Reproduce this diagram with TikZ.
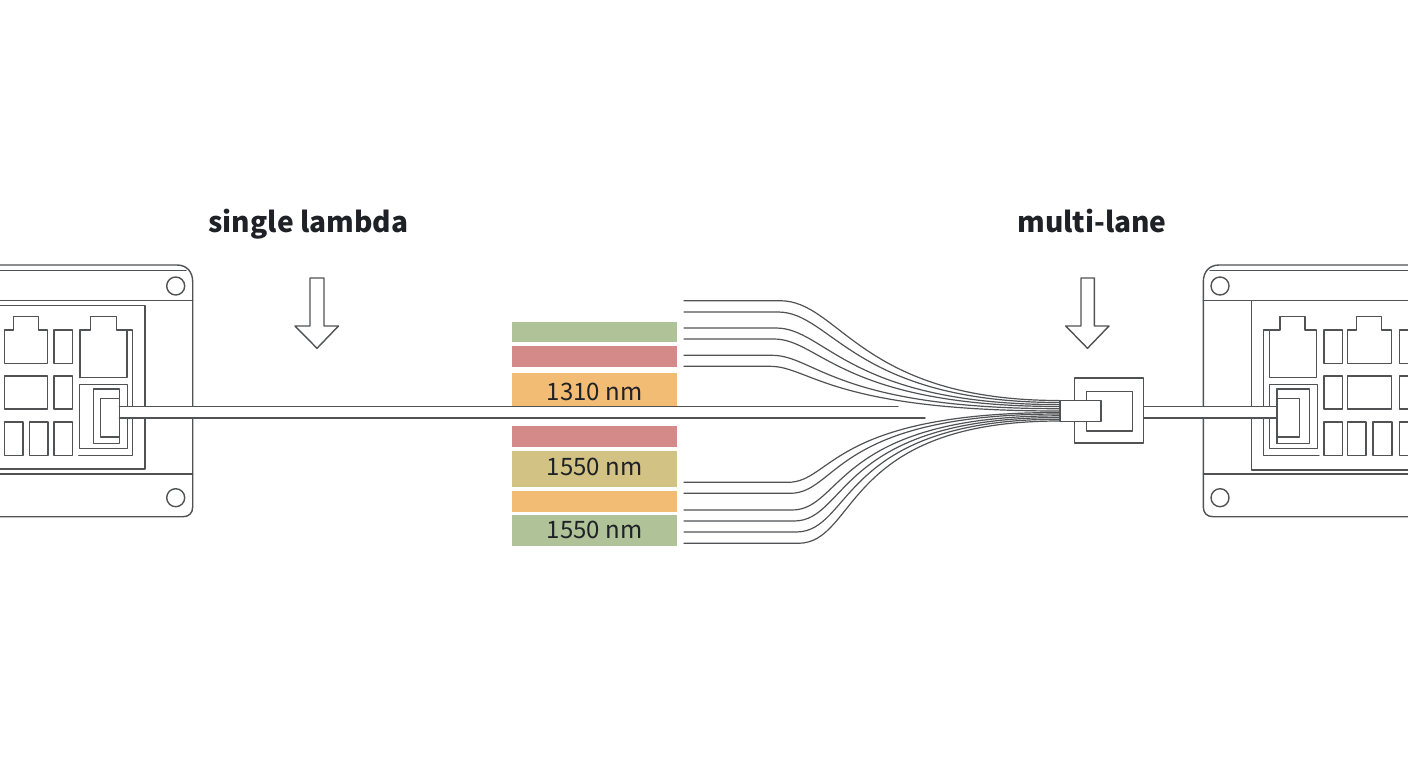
\documentclass[tikz,border=0pt]{standalone}
\usepackage{fontspec}
\setmainfont{Noto Sans CJK JP}
\definecolor{linegray}{HTML}{505254}
\definecolor{inkdark}{HTML}{1E2227}
\definecolor{bargreen}{HTML}{B0C298}
\definecolor{barred}{HTML}{D58A8A}
\definecolor{barorange}{HTML}{F2BC74}
\definecolor{baryellow}{HTML}{D2C283}
\tikzset{
  devline/.style={draw=linegray,line width=1.05pt},
  fibre/.style={draw=linegray,line width=0.9pt},
  bar/.style={anchor=north west,inner sep=0pt,outer sep=0pt,minimum width=123.75pt},
  barlabel/.style={anchor=base,inner sep=0pt,text=inkdark,font=\fontsize{18}{20}\selectfont},
  toplabel/.style={anchor=base,inner sep=0pt,text=inkdark,font=\fontsize{21.1}{23}\selectfont\bfseries},
  downarrow/.style={devline,fill=white}
}
\begin{document}
\begin{tikzpicture}[line cap=round,line join=round,x=0.75pt,y=-0.75pt]
\useasboundingbox (0,0) rectangle (1408,768);
\clip (0,0) rectangle (1408,768);
% colour bars
\node [bar,fill=bargreen,minimum height=15pt] (bar1) at (512,321.7) {};
\node [bar,fill=barred,minimum height=15.75pt] (bar2) at (512,346) {};
\node [bar,fill=barorange,minimum height=25pt] (bar3) at (512,372.7) {};
\node [bar,fill=barred,minimum height=15.5pt] (bar4) at (512,426) {};
\node [bar,fill=baryellow,minimum height=26.5pt] (bar5) at (512,451.3) {};
\node [bar,fill=barorange,minimum height=15.25pt] (bar6) at (512,491.3) {};
\node [bar,fill=bargreen,minimum height=23.25pt] (bar7) at (512,515.3) {};
\node [barlabel] (nm1) at (594.5,400) {1310 nm};
\node [barlabel] (nm2) at (594.5,475) {1550 nm};
\node [barlabel] (nm3) at (594.5,538.3) {1550 nm};
% left device
\draw [devline] (-3,265) -- (177,265) .. controls (187,265) and (192.7,272) .. (192.7,282) -- (192.7,507) .. controls (192.7,513) and (189,516.7) .. (183,516.7) -- (-3,516.7);
\draw [devline] (-3,270.5) -- (186,270.5);
\draw [devline] (-3,300.7) -- (192.7,300.7);
\draw [devline] (-3,474) -- (192.7,474);
\draw [devline] (-3,305.7) -- (145,305.7) -- (145,469) -- (-3,469);
\draw [devline] (175.7,286) circle (9);
\draw [devline] (175.7,497.7) circle (9);
\draw [devline] (4.3,363.3) -- (4.3,330) -- (13.3,330) -- (13.3,316.7) -- (38.3,316.7) -- (38.3,330) -- (47.7,330) -- (47.7,363.3) -- cycle;
\draw [devline] (80,377.7) -- (80,330) -- (90.7,330) -- (90.7,316.7) -- (116.7,316.7) -- (116.7,330) -- (132.7,330) -- (132.7,455.3) -- (78.7,455.3);
\draw [devline] (127,330) -- (127,377.7) -- (80,377.7);
\foreach \xa/\ya/\xb/\yb in {54/330/72.3/363.3,4.3/376/47.7/409,54/376/72.3/409,4.3/422/23/455.3,29.3/422/48/455.3,54/422/72.3/455.3,79.7/384.3/127.7/448.3,93.3/389/119.3/443.3,100.3/398.3/119.3/437}
  \draw [devline] (\xa,\ya) rectangle (\xb,\yb);
% right device
\draw [devline] (1411,265) -- (1219,265) .. controls (1209,265) and (1203.3,272) .. (1203.3,282) -- (1203.3,507) .. controls (1203.3,513) and (1207,516.7) .. (1213,516.7) -- (1411,516.7);
\draw [devline] (1210,270.5) -- (1411,270.5);
\draw [devline] (1203.3,300.7) -- (1411,300.7);
\draw [devline] (1203.3,474) -- (1411,474);
\draw [devline] (1251.3,300.7) -- (1251.3,470) -- (1411,470);
\draw [devline] (1220,286) circle (9);
\draw [devline] (1220,497.7) circle (9);
\draw [devline] (1319,455.3) -- (1263.3,455.3) -- (1263.3,330) -- (1280,330) -- (1280,316.7) -- (1305,316.7) -- (1305,330) -- (1316.7,330) -- (1316.7,377.7) -- (1269.7,377.7) -- (1269.7,330);
\draw [devline] (1347.7,363.3) -- (1347.7,330) -- (1356.7,330) -- (1356.7,316.7) -- (1381.7,316.7) -- (1381.7,330) -- (1391.7,330) -- (1391.7,363.3) -- cycle;
\foreach \xa/\ya/\xb/\yb in {1324/330/1342.3/363.3,1399.3/330/1420/363.3,1324/376/1342.3/409,1347.7/376/1391.7/409,1399.3/376/1420/409,1324/422/1342.3/455.3,1347.7/422/1366/455.3,1373/422/1392/455.3,1399.3/422/1420/455.3,1269.7/384.3/1317.5/448.3,1277/389/1309.7/443.3,1277/398.3/1299.3/437}
  \draw [devline] (\xa,\ya) rectangle (\xb,\yb);
% cables
\fill [white] (119.3,406.5) rectangle (900,418);
\fill [white] (1142.7,406.5) rectangle (1277,418);
\draw [devline] (119.3,406.5) -- (898,406.5);
\draw [devline] (119.3,418) -- (925,418);
\draw [devline] (1142.7,406.5) -- (1277,406.5);
\draw [devline] (1142.7,418) -- (1277,418);
\draw [devline] (119.3,398.3) -- (119.3,437);
\draw [devline] (1277,389) -- (1277,443.3);
% connector block
\node [devline,fill=white,inner sep=0pt,minimum width=51.5pt,minimum height=48.75pt,anchor=north west] (block) at (1074,377.3) {};
\node [devline,inner sep=0pt,minimum width=34.25pt,minimum height=29.7pt,anchor=north west] (socket) at (1086,390.7) {};
\node [devline,fill=white,inner sep=0pt,minimum width=30.75pt,minimum height=16pt,anchor=north west] (plug) at (1059.3,399.7) {};
% fibres
\foreach \ya/\yb/\xa/\xb/\xc/\n in {300.7/400.5/780/840/860/1,312/402.5/778/832/854/2,328/404.6/776/826/848/3,339/406.5/774/820/842/4,355.3/408.7/772/815/836/5,366.3/411/770/810/830/6}
{
  \coordinate (up\n) at (684,\ya);
  \coordinate (upend\n) at (plug.west |- 0,\yb);
  \draw [fibre] (up\n) -- (\xa,\ya) .. controls (\xb,\ya) and (\xc,\yb) .. (upend\n);
}
\foreach \ya/\yb/\xa/\xb/\xc/\n in {482.3/412.5/788/832/832/1,493.3/414/790/838/833/2,510/415.8/792/843/835/3,521/417.5/794/848/837/4,532/419.2/796/853/839/5,543.3/421/798/858/842/6}
{
  \coordinate (low\n) at (684,\ya);
  \coordinate (lowend\n) at (plug.west |- 0,\yb);
  \draw [fibre] (low\n) -- (\xa,\ya) .. controls (\xb,\ya) and (\xc,\yb) .. (lowend\n);
}
% arrows
\draw [downarrow] (310,278) -- (324,278) -- (324,326) -- (338.5,326) -- (317,348.3) -- (295,326) -- (310,326) -- cycle;
\draw [downarrow] (1081,278) -- (1094.3,278) -- (1094.3,326) -- (1109,326) -- (1087.5,348.3) -- (1065.7,326) -- (1081,326) -- cycle;
% labels
\node [toplabel] (lambdalabel) at (308.5,232) {single lambda};
\node [toplabel] (lanelabel) at (1092,232) {multi-lane};
\end{tikzpicture}
\end{document}
